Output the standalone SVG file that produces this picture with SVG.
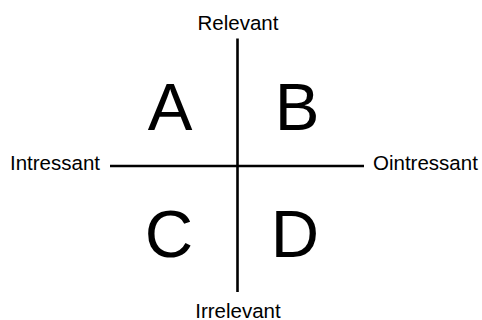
<svg xmlns="http://www.w3.org/2000/svg" width="482" height="320" viewBox="0 0 482 320">
<style>
.lbl{font-family:"Liberation Sans",Arial,sans-serif;font-size:20.5px;fill:#000}
.big{font-family:"Liberation Sans",Arial,sans-serif;font-size:67px;fill:#000;text-anchor:middle}
.ax{stroke:#000;stroke-width:2.6;fill:none}
</style>
<rect width="482" height="320" fill="#fff"/>
<g id="connectors">
<line class="ax" x1="237.5" y1="38.5" x2="237.5" y2="292"/>
<line class="ax" x1="110" y1="166" x2="364" y2="166"/>
</g>
<g id="relevant"><text class="lbl" x="238" y="30" text-anchor="middle">Relevant</text></g>
<g id="irrelevant"><text class="lbl" x="238" y="317.5" text-anchor="middle">Irrelevant</text></g>
<g id="intressant"><text class="lbl" x="10" y="170">Intressant</text></g>
<g id="ointressant"><text class="lbl" x="373" y="170">Ointressant</text></g>
<g id="A"><text class="big" x="170" y="130">A</text></g>
<g id="B"><text class="big" x="297" y="130">B</text></g>
<g id="C"><text class="big" x="169" y="257">C</text></g>
<g id="D"><text class="big" x="295" y="257">D</text></g>
</svg>
